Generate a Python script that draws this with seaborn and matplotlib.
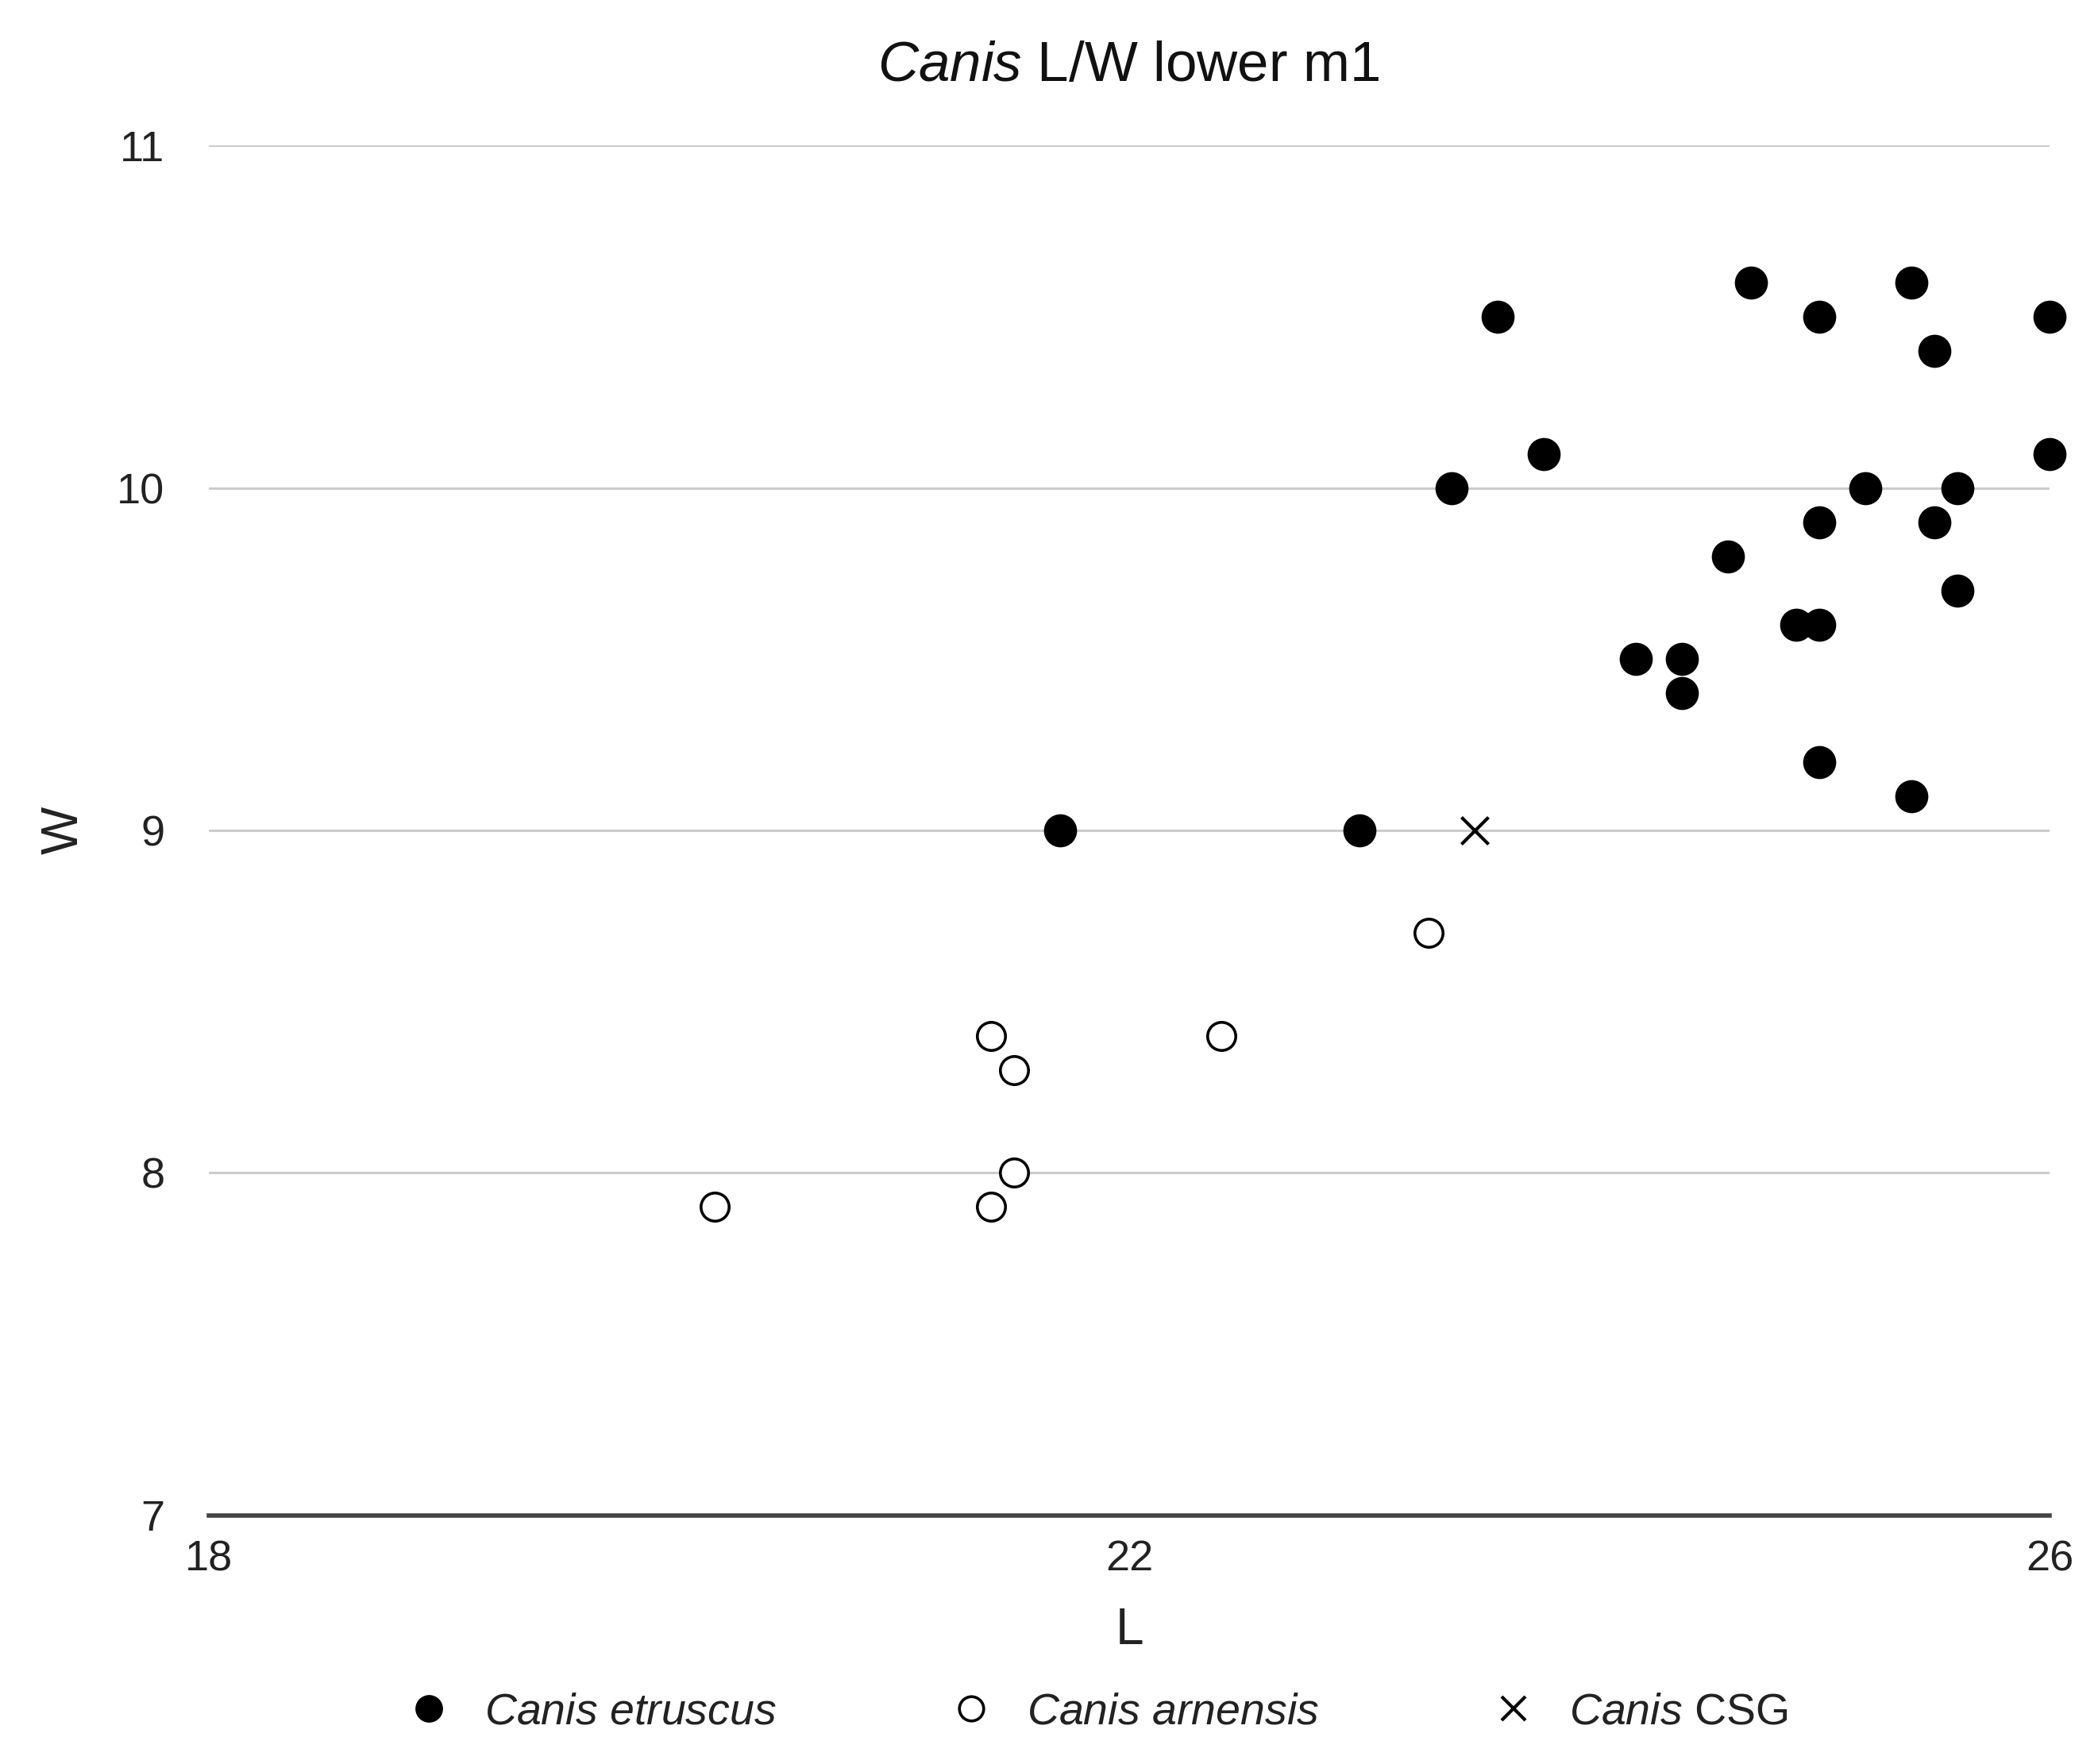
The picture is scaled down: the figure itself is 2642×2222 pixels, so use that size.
import matplotlib
matplotlib.use("Agg")
import matplotlib.pyplot as plt
import seaborn as sns
import pandas as pd
from matplotlib.lines import Line2D

# Data
etruscus_L = [21.7, 23.0, 23.4, 23.6, 23.8, 24.2, 24.4, 24.4, 24.6, 24.7, 24.9, 25.0,
              25.0, 25.0, 25.0, 25.2, 25.4, 25.4, 25.5, 25.5, 25.6, 25.6, 26.0, 26.0]
etruscus_W = [9.0, 9.0, 10.0, 10.5, 10.1, 9.5, 9.5, 9.4, 9.8, 10.6, 9.6, 9.6,
              10.5, 9.9, 9.2, 10.0, 10.6, 9.1, 10.4, 9.9, 10.0, 9.7, 10.5, 10.1]
arnensis_L = [20.2, 21.4, 21.5, 21.5, 21.4, 22.4, 23.3]
arnensis_W = [7.9, 8.4, 8.3, 8.0, 7.9, 8.4, 8.7]
csg_L = [23.5]
csg_W = [9.0]
x_ticks = [18, 22, 26]
y_ticks = [7, 8, 9, 10, 11]

sns.set_theme(style="white")
plt.rcParams['font.family'] = ['Liberation Sans', 'DejaVu Sans']
plt.rcParams['mathtext.fontset'] = 'custom'
plt.rcParams['mathtext.rm'] = 'Liberation Sans'
plt.rcParams['mathtext.it'] = 'Liberation Sans:italic'
plt.rcParams['mathtext.bf'] = 'Liberation Sans:bold'

df_e = pd.DataFrame({"L": etruscus_L, "W": etruscus_W})
df_a = pd.DataFrame({"L": arnensis_L, "W": arnensis_W})
df_c = pd.DataFrame({"L": csg_L, "W": csg_W})

fig = plt.figure(figsize=(26.42, 22.22), dpi=100)
ax = fig.add_axes([0.0995, 0.141, 0.8775, 0.7765])

for y in [8, 9, 10, 11]:
    ax.axhline(y, color="#cccccc", lw=2.2, zorder=0)

sns.scatterplot(data=df_e, x="L", y="W", ax=ax, marker="o", s=900,
                color="black", edgecolor="black", linewidth=0, zorder=3, clip_on=False)
sns.scatterplot(data=df_a, x="L", y="W", ax=ax, marker="o", s=650,
                facecolor="white", edgecolor="black", linewidth=2.6, zorder=3, clip_on=False)
sns.scatterplot(data=df_c, x="L", y="W", ax=ax, marker="x", s=600,
                color="black", linewidth=3.0, zorder=3, clip_on=False)

ax.set_xlim(18, 26)
ax.set_ylim(7, 11)
ax.set_xticks(x_ticks)
ax.set_yticks(y_ticks)
ax.tick_params(axis="both", length=0, labelsize=39, colors="#222222")
ax.tick_params(axis="x", pad=22)
ax.tick_params(axis="y", pad=40)
for s in ["top", "right", "left"]:
    ax.spines[s].set_visible(False)
ax.spines["bottom"].set_color("#444444")
ax.spines["bottom"].set_linewidth(4)
ax.grid(False)

ax.set_xlabel("L", fontsize=46, color="#222222", labelpad=25)
ax.set_ylabel("W", fontsize=46, color="#222222", labelpad=26)

fig.text(0.538, 0.962, r"$\it{Canis}$ L/W lower m1", ha="center", va="center",
         fontsize=51, color="#111111")

handles = [
    Line2D([], [], marker="o", ls="", markersize=24, markerfacecolor="black", markeredgecolor="black"),
    Line2D([], [], marker="o", ls="", markersize=22, markerfacecolor="white", markeredgecolor="black", markeredgewidth=2.6),
    Line2D([], [], marker="x", ls="", markersize=22, color="black", markeredgewidth=3),
]
labels = [r"$\it{Canis\ etruscus}$", r"$\it{Canis\ arnensis}$", r"$\it{Canis}$ CSG"]
leg = fig.legend(handles, labels, loc="center", bbox_to_anchor=(0.522, 0.029), ncol=3,
                 frameon=False, fontsize=40, columnspacing=3.8, handletextpad=0.67,
                 handlelength=1.2)
for t in leg.get_texts():
    t.set_color("#222222")

fig.savefig("out.png", dpi=100)
